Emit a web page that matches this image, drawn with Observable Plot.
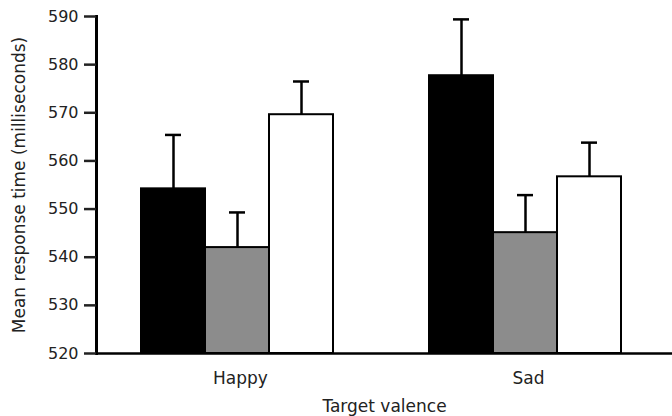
<!DOCTYPE html>
<html><head><meta charset="utf-8">
<script src="https://cdn.jsdelivr.net/npm/d3@7"></script>
<script src="https://cdn.jsdelivr.net/npm/@observablehq/plot@0.6"></script>
<style>body{margin:0;background:#fff}</style>
</head><body><div id="chart"></div>
<script>
const groups = ["Happy", "Sad"];
const conditions = ["black", "gray", "white"];
const fills = ["#000000", "#8c8c8c", "#ffffff"];
const happyMeans = [554.2, 542.0, 569.6];
const happyUpper = [565.4, 549.3, 576.5];
const sadMeans = [577.7, 545.1, 556.7];
const sadUpper = [589.4, 552.9, 563.8];
const yTicks = [520, 530, 540, 550, 560, 570, 580, 590];
const yDomain = [520, 590];

const data = [];
groups.forEach((g, gi) => {
  const means = gi === 0 ? happyMeans : sadMeans;
  const upper = gi === 0 ? happyUpper : sadUpper;
  conditions.forEach((c, ci) => {
    data.push({group: g, cond: c, value: means[ci], upper: upper[ci], base: yDomain[0], fill: fills[ci]});
  });
});

const font = "DejaVu Sans, sans-serif";
const chart = Plot.plot({
  width: 672,
  height: 416,
  marginTop: 16,
  marginBottom: 63,
  marginLeft: 96,
  marginRight: 0,
  style: {fontFamily: font, background: "#fff", color: "#222"},
  fx: {domain: groups, paddingInner: 0, paddingOuter: 0, axis: null},
  x: {domain: conditions, paddingInner: 0, paddingOuter: 0.727, align: 0.468, axis: null},
  y: {domain: yDomain, axis: null},
  marks: [
    Plot.barY(data, {fx: "group", x: "cond", y1: "base", y2: "value", fill: "fill", stroke: "#000", strokeWidth: 2}),
    Plot.ruleX(data, {fx: "group", x: "cond", y1: "value", y2: "upper", stroke: "#000", strokeWidth: 2.5}),
    Plot.tickY(data, {fx: "group", x: "cond", y: "upper", stroke: "#000", strokeWidth: 2.5, insetLeft: 24, insetRight: 24}),
    Plot.frame({anchor: "left", facet: "super", stroke: "#000", strokeWidth: 3}),
    Plot.frame({anchor: "bottom", facet: "super", stroke: "#000", strokeWidth: 2.5}),
    Plot.axisY({ticks: yTicks, tickSize: 12, tickPadding: 6, strokeWidth: 2.5, fontSize: 16, fill: "#222",
      label: "Mean response time (milliseconds)", labelAnchor: "center", labelArrow: "none", labelOffset: 84}),
    Plot.axisFx({anchor: "bottom", tickSize: 0, tickPadding: 18, fontSize: 17, fill: "#222",
      label: "Target valence", labelAnchor: "center", labelArrow: "none", labelOffset: 58})
  ]
});
chart.querySelectorAll("g[aria-label='y-axis label'] text, g[aria-label='fx-axis label'] text").forEach(t => t.setAttribute("font-size", 17));
document.getElementById("chart").appendChild(chart);
</script>
</body></html>
